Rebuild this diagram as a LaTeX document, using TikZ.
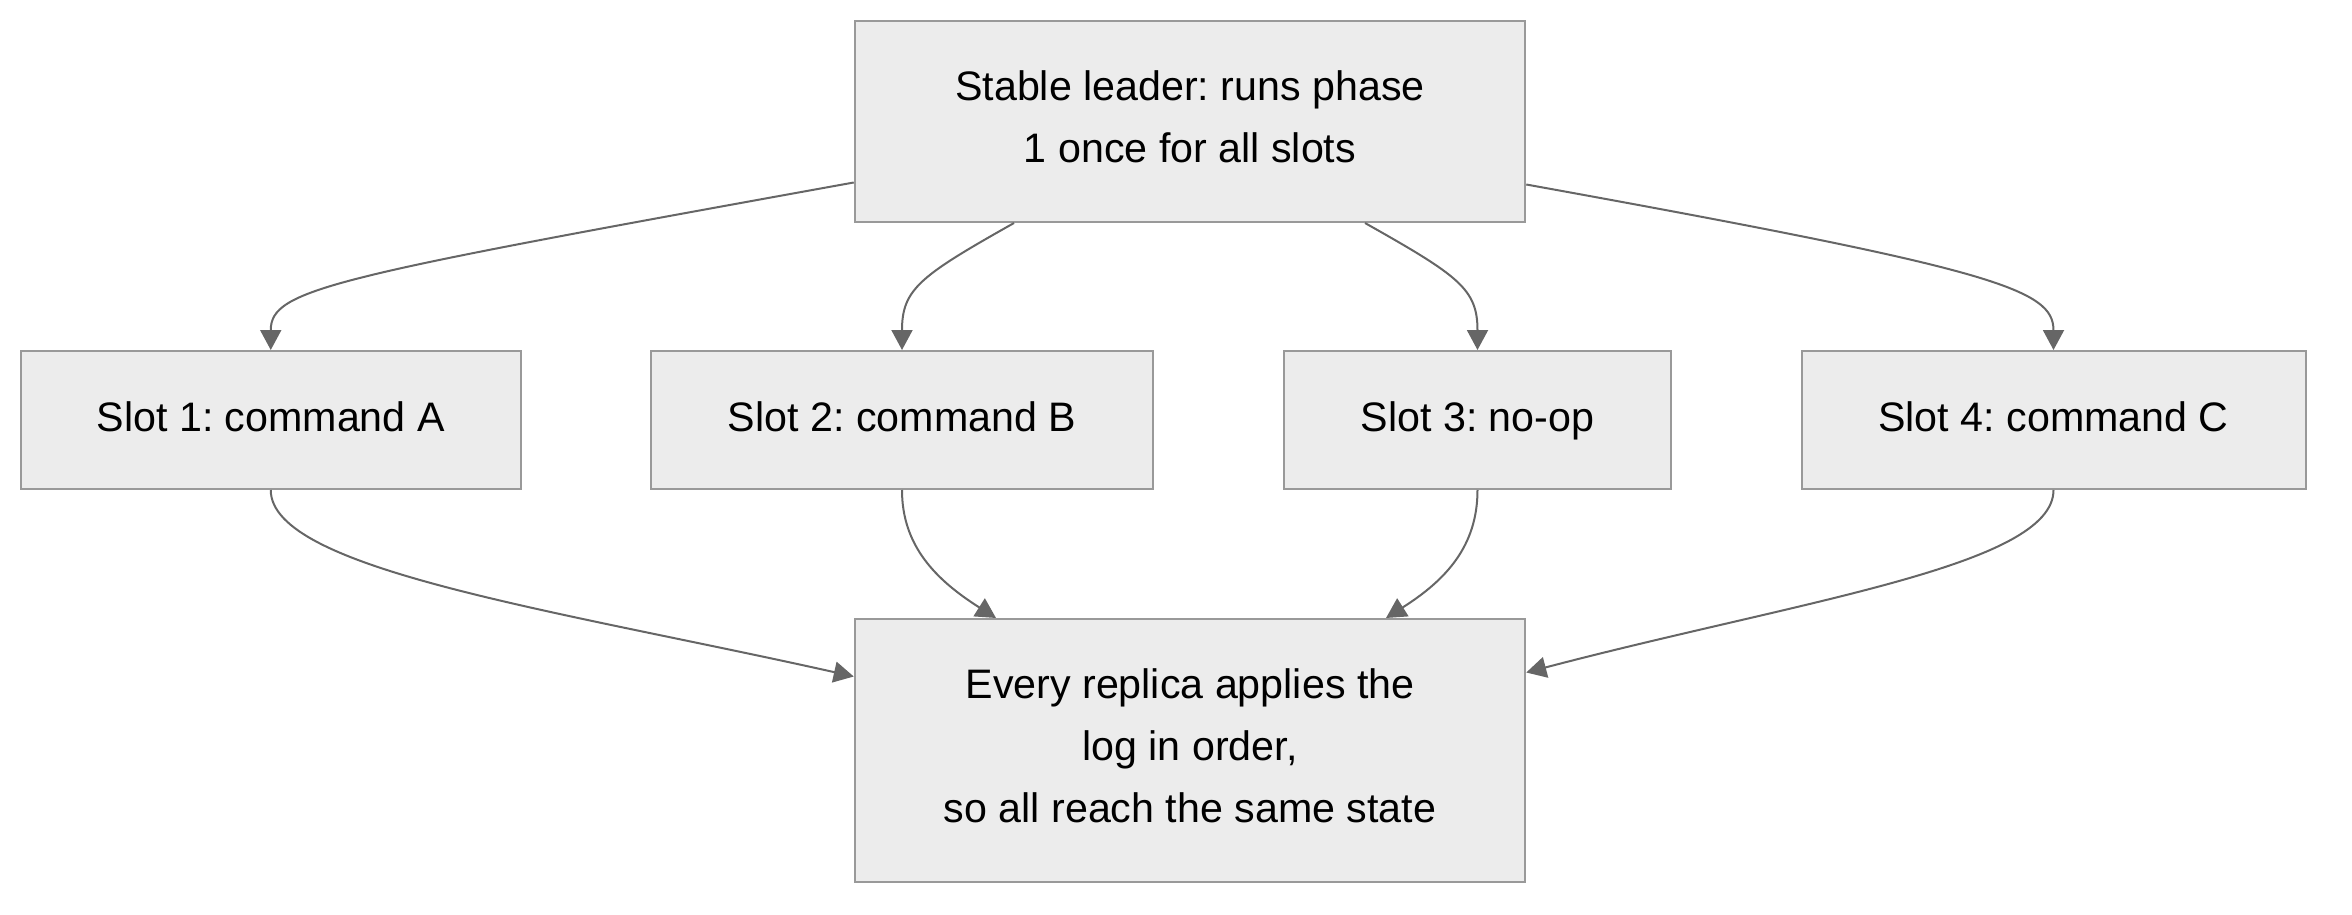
\documentclass[tikz,border=0pt]{standalone}
\usepackage{fontspec}
\setmainfont{Liberation Sans}
\usetikzlibrary{arrows.meta}
\definecolor{boxfill}{HTML}{ECECEC}
\definecolor{boxline}{HTML}{999999}
\definecolor{edgeline}{HTML}{666666}
\tikzset{
  box/.style={draw=boxline, fill=boxfill, line width=1pt, inner sep=0pt, align=center,
    font=\fontsize{20.6}{31}\selectfont},
  slotbox/.style={box, minimum height=69pt, text height=15.5pt, text depth=3.8pt},
  flow/.style={draw=edgeline, line width=1pt, -{Triangle[length=10pt,width=10.5pt]}}
}
\frenchspacing

\begin{document}
\begin{tikzpicture}[x=0.5pt, y=-0.5pt]
            \useasboundingbox (0,0) rectangle (2352,915);
            \node[box, minimum width=335.25pt, minimum height=100.5pt, text depth=4.7pt] (lead) at (1190,121.5) {Stable leader: runs phase\\1 once for all slots};
            \node[slotbox, minimum width=249.75pt] (s1) at (270.75,420) {Slot 1: command A};
            \node[slotbox, minimum width=251.25pt] (s2) at (902,420) {Slot 2: command B};
            \node[slotbox, minimum width=193.5pt] (s3) at (1477.5,420) {Slot 3: no-op};
            \node[slotbox, minimum width=252pt] (s4) at (2053.5,420) {Slot 4: command C};
            \node[box, minimum width=335.25pt, minimum height=131.5pt, text depth=4.7pt] (apply) at (1190,750.5) {Every replica applies the\\log in order,\\so all reach the same state};

            \draw[flow] ([yshift=-30.5pt]lead.west) .. controls +(-525,95) and +(0,-61) .. (s1.north);
            \draw[flow] ([xshift=-88pt]lead.south) .. controls +(-94,53) and +(0,-61) .. (s2.north);
            \draw[flow] ([xshift=87.5pt]lead.south) .. controls +(94,53) and +(0,-61) .. (s3.north);
            \draw[flow] ([yshift=-31.5pt]lead.east) .. controls +(470,85) and +(0,-61) .. (s4.north);

            \draw[flow] (s1.south) .. controls +(0,80) and +(-295,-66) .. ([yshift=37pt]apply.west);
            \draw[flow] (s2.south) .. controls +(0,56) and +(-60,-38) .. ([xshift=-97pt]apply.north);
            \draw[flow] (s3.south) .. controls +(0,56) and +(60,-38) .. ([xshift=98pt]apply.north);
            \draw[flow] (s4.south) .. controls +(0,76) and +(274,-72) .. ([yshift=39pt]apply.east);
        \end{tikzpicture}
\end{document}
